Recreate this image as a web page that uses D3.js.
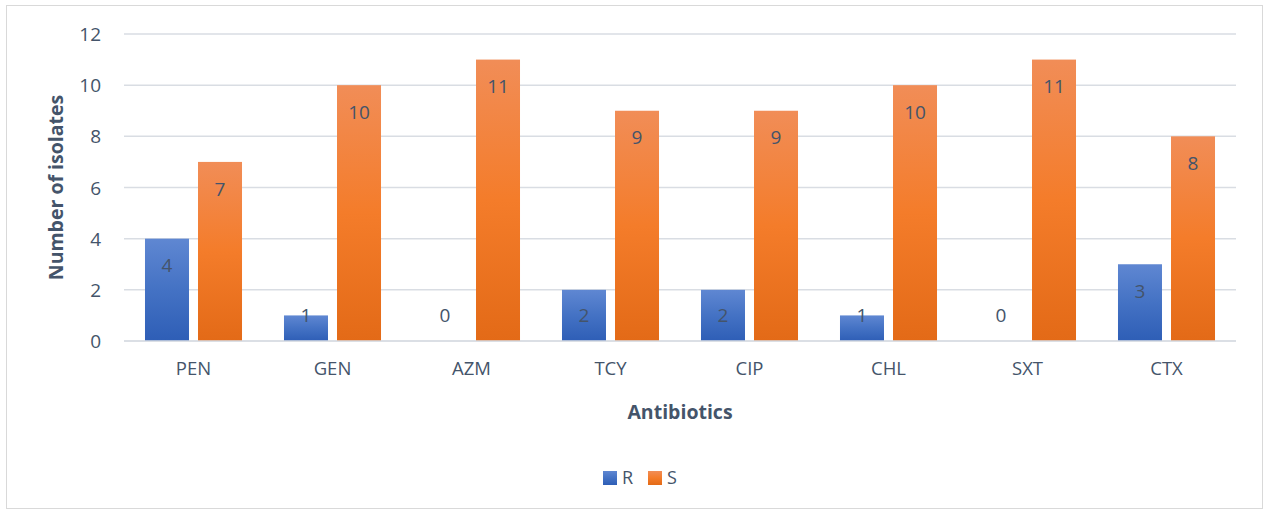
<!DOCTYPE html>
<html><head><meta charset="utf-8">
<script src="https://cdn.jsdelivr.net/npm/d3@7"></script>
<style>body{margin:0;background:#fff}svg{display:block}text{font-family:"Open Sans","Noto Sans",sans-serif}</style>
</head><body>
<svg id="c" width="1266" height="514"></svg>
<script>
const categories = ["PEN","GEN","AZM","TCY","CIP","CHL","SXT","CTX"];
const seriesNames = ["R","S"];
const valuesR = [4,1,0,2,2,1,0,3];
const valuesS = [7,10,11,9,9,10,11,8];
const yTicks = [0,2,4,6,8,10,12];

const svg = d3.select("#c");
const m = {left:124, right:1236, top:34, bottom:341};
const textColor = "#44546A";
const gridColor = "#D9DDE3";

svg.append("rect").attr("x",6.5).attr("y",5.5).attr("width",1256).attr("height",503)
  .attr("fill","#fff").attr("stroke","#D9D9D9").attr("stroke-width",1);

const defs = svg.append("defs");
const gB = defs.append("linearGradient").attr("id","gB").attr("x1",0).attr("y1",0).attr("x2",0).attr("y2",1);
gB.append("stop").attr("offset","0%").attr("stop-color","#5F87D2");
gB.append("stop").attr("offset","50%").attr("stop-color","#4472C4");
gB.append("stop").attr("offset","100%").attr("stop-color","#2E5EB6");
const gS = defs.append("linearGradient").attr("id","gS").attr("x1",0).attr("y1",0).attr("x2",0).attr("y2",1);
gS.append("stop").attr("offset","0%").attr("stop-color","#F18D57");
gS.append("stop").attr("offset","50%").attr("stop-color","#F47C2A");
gS.append("stop").attr("offset","100%").attr("stop-color","#E36A17");
const fills = ["url(#gB)","url(#gS)"];

const x = d3.scaleBand().domain(categories).range([m.left,m.right]).paddingInner(0.302).paddingOuter(0.151);
const xs = d3.scaleBand().domain(seriesNames).range([0,x.bandwidth()]).paddingInner(0.17);
const y = d3.scaleLinear().domain([0,12]).range([m.bottom,m.top]);

svg.append("g").selectAll("line").data(yTicks).join("line")
  .attr("x1",m.left).attr("x2",m.right)
  .attr("y1",d=>y(d)).attr("y2",d=>y(d))
  .attr("stroke",gridColor).attr("stroke-width",1.5);

const yAxis = d3.axisLeft(y).tickValues(yTicks).tickSize(0).tickPadding(0);
const ya = svg.append("g").attr("transform",`translate(${m.left-23},0)`).call(yAxis);
ya.select(".domain").remove();
ya.selectAll("text").attr("font-size",19).attr("fill",textColor).attr("dy","0.35em");

const xAxis = d3.axisBottom(x).tickSize(0).tickPadding(0);
const xa = svg.append("g").attr("transform",`translate(0,${m.bottom+21})`).call(xAxis);
xa.select(".domain").remove();
xa.selectAll("text").attr("font-size",18.5).attr("fill",textColor).attr("dy","0.71em");

const data = categories.map((c,i)=>({c, vals:[valuesR[i],valuesS[i]]}));
const groups = svg.append("g").selectAll("g").data(data).join("g")
  .attr("transform",d=>`translate(${x(d.c)},0)`);
groups.selectAll("rect").data(d=>d.vals.map((v,j)=>({s:seriesNames[j],v,j}))).join("rect")
  .attr("x",d=>xs(d.s)).attr("width",xs.bandwidth())
  .attr("y",d=>y(d.v)).attr("height",d=>y(0)-y(d.v))
  .attr("fill",d=>fills[d.j]);
groups.selectAll("text").data(d=>d.vals.map((v,j)=>({s:seriesNames[j],v,j}))).join("text")
  .attr("x",d=>xs(d.s)+xs.bandwidth()/2)
  .attr("y",d=>Math.min(y(d.v)+27, y(0)-26))
  .attr("dy","0.35em").attr("text-anchor","middle")
  .attr("font-size",19).attr("fill",textColor).text(d=>d.v);

svg.append("line").attr("x1",m.left).attr("x2",m.right).attr("y1",y(0)).attr("y2",y(0))
  .attr("stroke",gridColor).attr("stroke-width",1.5);

svg.append("text").attr("x",680).attr("y",412).attr("dy","0.35em")
  .attr("text-anchor","middle").attr("font-size",19.5).attr("font-weight","bold")
  .attr("fill",textColor).text("Antibiotics");
svg.append("text").attr("transform",`translate(56,${(m.top+m.bottom)/2}) rotate(-90)`)
  .attr("dy","0.35em").attr("text-anchor","middle").attr("font-size",19.5).attr("font-weight","bold")
  .attr("fill",textColor).text("Number of isolates");

const leg = svg.append("g");
const legX = [603,648];
seriesNames.forEach((s,i)=>{
  leg.append("rect").attr("x",legX[i]).attr("y",471).attr("width",14).attr("height",14).attr("fill",fills[i]);
  leg.append("text").attr("x",legX[i]+19).attr("y",478).attr("dy","0.35em")
    .attr("font-size",18).attr("fill",textColor).text(s);
});
</script>
</body></html>
